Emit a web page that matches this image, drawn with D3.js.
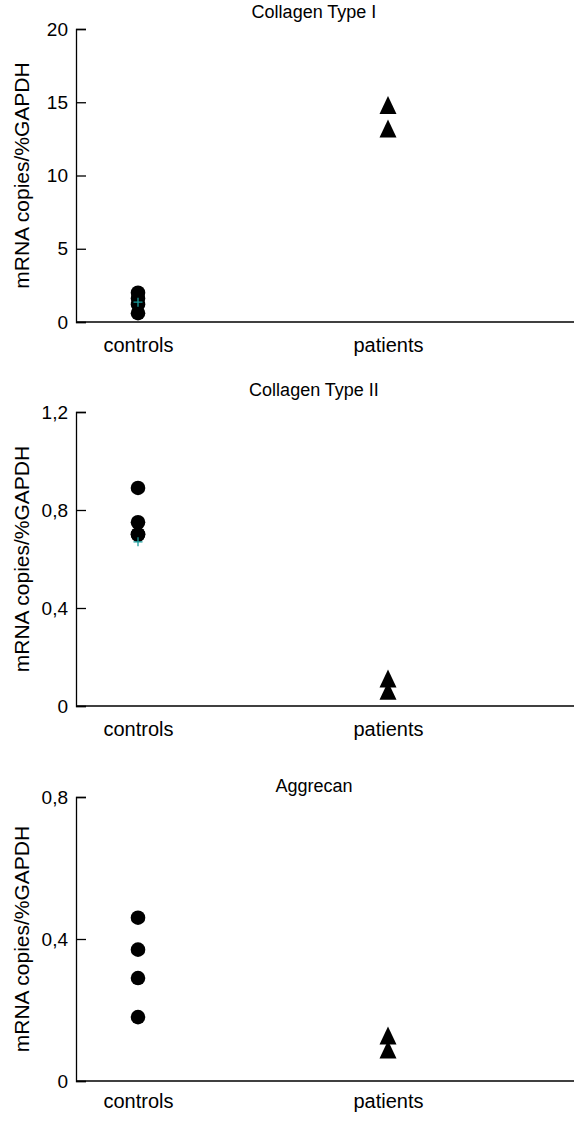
<!DOCTYPE html>
<html>
<head>
<meta charset="utf-8">
<script src="https://cdn.jsdelivr.net/npm/d3@7"></script>
<style>
  body { margin: 0; background: #fff; }
  text { font-family: Arial, "Liberation Sans", sans-serif; fill: #000; }
</style>
</head>
<body>
<svg id="chart" width="574" height="1123"></svg>
<script>
// groups on the x axis
const groups = ["controls", "patients"];

// panel titles
const titles = ["Collagen Type I", "Collagen Type II", "Aggrecan"];

// y axis ranges and ticks
const yMax = [20, 1.2, 0.8];
const yTicks = [[0, 5, 10, 15, 20], [0, 0.4, 0.8, 1.2], [0, 0.4, 0.8]];

// values
const col1Controls = [2.0, 1.6, 1.2, 0.6];
const col1Patients = [14.6, 13.0];
const col2Controls = [0.89, 0.75, 0.70, 0.70];
const col2Patients = [0.10, 0.05];
const aggControls = [0.46, 0.37, 0.29, 0.18];
const aggPatients = [0.12, 0.08];

// mean markers (teal cross) for the controls
const controlMeans = [1.35, 0.67, null];

const controlsData = [col1Controls, col2Controls, aggControls];
const patientsData = [col1Patients, col2Patients, aggPatients];

// layout of each panel (top / bottom of the y axis, title baseline)
const panelBox = [
  {top: 29, bottom: 322, titleY: 18, labelPad: 16},
  {top: 412, bottom: 706, titleY: 396, labelPad: 16},
  {top: 797, bottom: 1081, titleY: 792, labelPad: 13}
];
const axisX = 76, rightX = 574;

const svg = d3.select("#chart");
const fmt = d => String(d).replace(".", ",");

// triangle marker, a bit taller than equilateral
const tallTriangle = {
  draw(ctx, size) {
    const w = 8.5, h = 18;
    ctx.moveTo(0, -h * 2 / 3);
    ctx.lineTo(w, h / 3);
    ctx.lineTo(-w, h / 3);
    ctx.closePath();
  }
};

titles.forEach((title, i) => {
  const box = panelBox[i];
  const g = svg.append("g");

  const x = d3.scalePoint()
    .domain(groups)
    .range([138, 388]);

  const y = d3.scaleLinear()
    .domain([0, yMax[i]])
    .range([box.bottom, box.top]);

  // y axis, ticks drawn inwards
  const yAxis = d3.axisLeft(y)
    .tickValues(yTicks[i])
    .tickSize(-10)
    .tickPadding(8)
    .tickFormat(fmt);

  const ya = g.append("g")
    .attr("transform", `translate(${axisX},0)`)
    .call(yAxis);
  ya.select(".domain").attr("stroke", "#000").attr("stroke-width", 1.3);
  ya.selectAll(".tick line").attr("stroke", "#000").attr("stroke-width", 1.3);
  ya.selectAll(".tick text")
    .attr("font-size", 19)
    .attr("font-family", "Arial, 'Liberation Sans', sans-serif");

  // x axis without ticks
  const xa = g.append("g")
    .attr("transform", `translate(0,${box.bottom})`)
    .call(d3.axisBottom(x).tickSize(0).tickPadding(box.labelPad));
  xa.select(".domain")
    .attr("d", `M${axisX},0H${rightX}`)
    .attr("stroke", "#000").attr("stroke-width", 1.3);
  xa.selectAll(".tick text")
    .attr("font-size", 20)
    .attr("font-family", "Arial, 'Liberation Sans', sans-serif");

  // y label
  g.append("text")
    .attr("transform", `translate(22,${(box.top + box.bottom) / 2}) rotate(-90)`)
    .attr("text-anchor", "middle")
    .attr("dy", "0.35em")
    .attr("font-size", 21)
    .text("mRNA copies/%GAPDH");

  // title
  g.append("text")
    .attr("x", 314)
    .attr("y", box.titleY)
    .attr("text-anchor", "middle")
    .attr("font-size", 18)
    .text(title);

  // controls: filled circles
  g.selectAll(".ctrl")
    .data(controlsData[i])
    .join("circle")
    .attr("class", "ctrl")
    .attr("cx", x("controls"))
    .attr("cy", d => y(d))
    .attr("r", 7.3)
    .attr("fill", "#000");

  // patients: filled triangles
  g.selectAll(".pat")
    .data(patientsData[i])
    .join("path")
    .attr("class", "pat")
    .attr("d", d3.symbol().type(tallTriangle))
    .attr("transform", d => `translate(${x("patients")},${y(d)})`)
    .attr("fill", "#000");

  // mean cross
  if (controlMeans[i] != null) {
    const m = y(controlMeans[i]);
    const cx = x("controls");
    g.append("path")
      .attr("d", `M${cx - 4.5},${m}H${cx + 4.5}M${cx},${m - 4.5}V${m + 4.5}`)
      .attr("stroke", "#1a9c9c")
      .attr("stroke-width", 1.3);
  }
});
</script>
</body>
</html>
